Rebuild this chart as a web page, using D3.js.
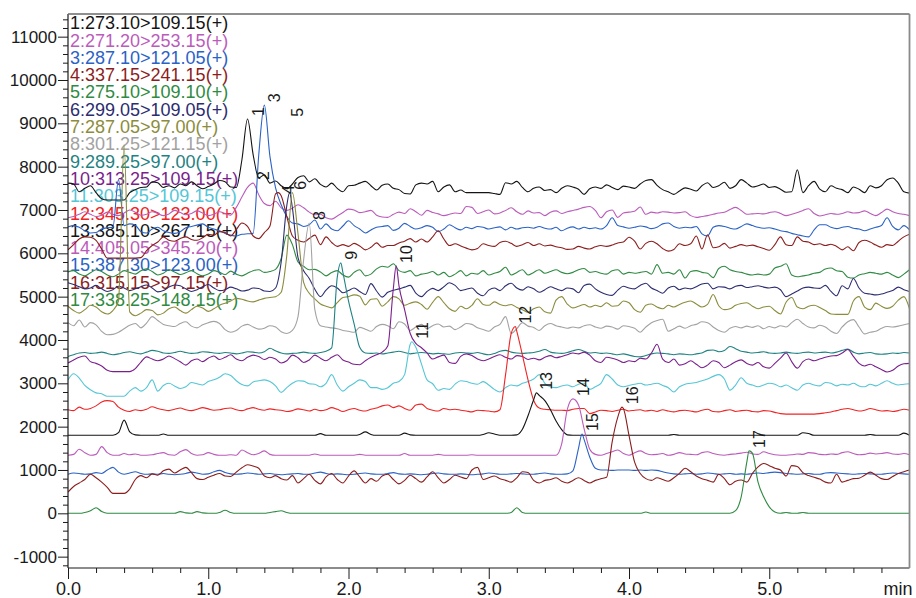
<!DOCTYPE html>
<html>
<head>
<meta charset="utf-8">
<script src="https://cdn.jsdelivr.net/npm/d3@7"></script>
<style>
  body { margin: 0; background: #fff; }
  svg { display: block; }
  text { font-family: "Liberation Sans", Arial, Helvetica, sans-serif; }
</style>
</head>
<body>
<svg id="chart" width="916" height="598"></svg>
<script>
// ---- MRM chromatogram data: one intensity sample every 0.04 min, 0.00 - 6.00 min ----
const sampleStep = 0.04;

const transitions = [
  "1:273.10>109.15(+)", "2:271.20>253.15(+)", "3:287.10>121.05(+)", "4:337.15>241.15(+)",
  "5:275.10>109.10(+)", "6:299.05>109.05(+)", "7:287.05>97.00(+)", "8:301.25>121.15(+)",
  "9:289.25>97.00(+)", "10:313.25>109.15(+)", "11:303.25>109.15(+)", "12:345.30>123.00(+)",
  "13:385.10>267.15(+)", "14:405.05>345.20(+)", "15:387.30>123.00(+)", "16:315.15>97.15(+)",
  "17:338.25>148.15(+)"
];

const trace01 = [
  7620,7600,7420,7500,7560,7400,7260,7230,7230,7230,
  7230,7400,7470,7520,7530,7650,7630,7520,7560,7510,
  7600,7560,7650,7560,7490,7540,7600,7680,7650,7530,
  7520,8160,9100,8280,7740,7810,7620,7670,7560,7490,
  7600,7750,7790,7650,7720,7590,7530,7620,7500,7420,
  7560,7570,7620,7660,7560,7460,7570,7600,7500,7470,
  7380,7370,7580,7620,7600,7660,7420,7530,7580,7420,
  7460,7400,7400,7400,7400,7400,7380,7360,7630,7600,
  7660,7520,7420,7500,7530,7450,7470,7400,7500,7560,
  7530,7480,7360,7490,7530,7500,7580,7520,7470,7550,
  7530,7500,7600,7680,7700,7570,7470,7420,7360,7440,
  7510,7480,7440,7560,7630,7520,7560,7640,7500,7560,
  7700,7620,7530,7560,7600,7520,7540,7480,7410,7420,
  7930,7400,7560,7660,7480,7420,7560,7500,7470,7400,
  7530,7480,7400,7560,7510,7560,7700,7740,7620,7420,
  7390
];
const trace02 = [
  6820,6850,6900,6960,6900,6850,6880,6950,6900,6870,
  6930,7000,6950,6880,6900,6960,6920,6870,6910,6990,
  6940,6890,6920,6980,6930,6870,6900,6960,6920,6880,
  7060,7300,7520,7620,7350,7150,7100,7200,7050,6990,
  7040,7120,7050,6950,6890,6900,6820,6790,6860,6940,
  7020,7000,6940,6960,6990,6880,6840,6830,6900,6950,
  6920,7030,6960,6880,6990,6940,6910,6870,6900,6930,
  6920,7080,7060,6920,6960,7000,6910,6930,6990,7050,
  6960,6900,6980,6930,6940,6870,6950,6980,6920,6960,
  6990,7020,7060,7080,6990,6820,6960,7000,6830,6930,
  6950,6970,7070,6900,6950,6930,6960,6950,6930,6940,
  6960,6870,6830,6850,6870,6900,6930,6950,7010,7060,
  6990,6900,6910,6920,6910,6940,6960,6920,6870,6900,
  6940,6990,7030,6920,6860,6890,6920,6900,6920,6960,
  6930,6940,6980,6920,6870,6940,7020,6960,6920,6900,
  6870
];
const trace03 = [
  6610,6640,6600,6520,6470,6480,6560,6590,6600,7700,
  6640,6680,6650,6500,6470,6560,6600,6520,6480,6460,
  6500,6590,6620,6650,6680,6600,6560,6520,6460,6420,
  6400,6440,6450,6460,8270,9420,8230,7510,7120,6850,
  6700,6680,6620,6660,6770,6560,6680,6560,6520,6630,
  6750,6640,6560,6470,6540,6600,6620,6640,6530,6580,
  6690,6620,6560,6590,6640,6600,6500,6560,6660,6590,
  6540,6600,6570,6620,6600,6560,6590,6610,6540,6600,
  6560,6590,6600,6580,6620,6580,6560,6600,6520,6580,
  6610,6560,6600,6570,6590,6560,6640,6820,6640,6610,
  6580,6600,6630,6610,6570,6600,6680,6700,6620,6580,
  6600,6590,6620,6450,6400,6600,6640,6620,6580,6560,
  6620,6680,6640,6600,6580,6590,6560,6520,6500,6460,
  6430,6400,6380,6540,6660,6660,6600,6570,6600,6620,
  6580,6560,6520,6560,6600,6640,6820,6620,6540,6640,
  6540
];
const trace04 = [
  6080,6200,6330,6380,6370,6300,6100,5890,5890,5890,
  5890,5890,5890,5900,6060,6180,6260,6380,6300,6280,
  6340,6380,6320,6300,6360,6440,6420,6500,6480,6400,
  6550,6700,6620,6400,6340,6480,6630,7370,7330,6850,
  6400,6300,6260,6340,6420,6200,6380,6250,6160,6200,
  6160,6230,6170,6080,6140,6240,6140,6180,6180,6240,
  6280,6340,6260,6330,6260,6380,6520,6330,6180,6220,
  6170,6120,6080,6110,6220,6180,6160,6250,6280,6230,
  6160,6200,6250,6180,6220,6170,6190,6150,6130,6090,
  6100,6160,6120,6100,6150,6180,6160,6190,6240,6260,
  6370,6280,6100,6230,6280,6220,6110,6050,6090,6220,
  6180,6220,6400,6100,6430,6130,6150,6230,6120,6160,
  6200,6170,6190,6150,6110,6070,6200,6380,6200,6180,
  6380,6280,6260,6200,6220,6180,6210,6160,6080,6150,
  6060,6250,6300,6260,6190,6140,6200,6180,6280,6380,
  6440
];
const trace05 = [
  5570,5600,5520,5480,5550,5620,5580,5500,5460,5520,
  5600,5560,5520,5600,5640,5580,5500,5540,5620,5570,
  5510,5550,5600,5530,5480,5520,5600,5560,5510,5590,
  5520,5480,5540,5600,5620,5560,5580,5630,5880,6420,
  6200,5800,5700,5620,5630,5570,5480,5560,5600,5500,
  5450,5560,5620,5480,5520,5640,5700,5680,5760,5600,
  5560,5600,5480,5520,5540,5580,5500,5560,5460,5520,
  5600,5480,5540,5520,5600,5500,5540,5580,5680,5500,
  5560,5620,5500,5560,5620,5540,5580,5620,5560,5530,
  5560,5620,5650,5560,5580,5540,5520,5600,5620,5520,
  5560,5540,5560,5580,5520,5740,5540,5560,5520,5620,
  5430,5580,5600,5560,5540,5440,5650,5700,5620,5580,
  5560,5520,5500,5520,5500,5520,5660,5700,5760,5500,
  5460,5480,5500,5540,5560,5640,5660,5600,5580,5450,
  5430,5500,5530,5560,5540,5520,5560,5500,5440,5520,
  5620
];
const trace06 = [
  5320,5280,5230,5180,5200,5260,5180,5120,5160,5240,
  5200,5140,5180,5230,5270,5200,5110,5140,5220,5270,
  5250,5180,5120,5160,5230,5280,5200,5140,5160,5220,
  5180,5130,5150,5200,5190,5130,5120,5200,5800,7100,
  7050,5900,5600,5420,5170,5000,5150,5250,5200,5090,
  5140,5200,5120,5050,5300,5130,4990,5100,5150,5180,
  5220,5260,5080,5000,5120,5190,5140,5230,5320,5260,
  5140,5170,5200,5080,5020,5150,5200,5140,5250,5310,
  5200,5150,5230,5180,5100,5160,5230,5180,5140,5200,
  5180,5090,5260,5290,5180,5100,5050,5030,5150,5240,
  5200,5180,5260,5310,5200,5140,5080,5200,5240,5160,
  5200,5180,5230,5290,5310,5180,5230,5220,5180,5240,
  5260,5210,5230,5250,5220,5200,5220,5160,5000,5060,
  5130,5200,5220,5200,5190,5260,5120,5020,5250,5180,
  5420,5200,5080,5060,5040,5060,5100,5140,5220,5160,
  5120
];
const trace07 = [
  4780,4680,4620,4700,4800,4760,4650,4600,4680,4900,
  8500,4650,4560,4620,4700,4680,4580,4620,4720,4760,
  4680,4620,4700,4780,4740,4660,4720,4800,4850,4900,
  4960,4940,4900,4880,4920,4960,4980,5000,5100,5950,
  7400,6450,5330,5080,4950,4830,4780,4740,4860,4980,
  5000,5040,5010,4810,4940,4950,4780,4880,5000,4950,
  4800,4850,4880,4820,4710,4870,5000,4860,4720,4660,
  4780,4720,4800,4950,4820,4800,4880,4820,4790,4820,
  4750,4700,4640,4720,4760,4650,4620,4920,5000,4830,
  4740,4780,4820,4760,4800,4770,4860,4780,4790,4900,
  4860,4700,4640,4800,4830,4760,4720,4800,4760,4820,
  4870,4900,4830,4760,4820,5050,4790,4700,4720,4800,
  4840,4860,4780,4720,4760,4780,4680,4600,4870,4980,
  4760,4720,4780,4800,4750,4680,4600,4590,4590,4590,
  4900,5000,4760,4700,4850,4780,4730,4780,4920,5000,
  4720
];
const trace08 = [
  4400,4330,4460,4300,4400,4350,4200,4120,4130,4180,
  4260,4340,4380,4280,4390,4540,4450,4360,4330,4310,
  4380,4420,4320,4280,4350,4400,4430,4380,4240,4180,
  4220,4320,4360,4300,4250,4270,4330,4300,4190,4150,
  4220,4540,5850,6700,4700,4330,4300,4280,4260,4220,
  4200,4180,4290,4250,4200,4310,4360,4330,4260,4420,
  4370,4220,4300,4360,4260,4330,4370,4300,4320,4240,
  4300,4380,4360,4280,4240,4200,4300,4360,4540,4150,
  4260,4400,4320,4290,4220,4330,4380,4330,4300,4270,
  4300,4280,4330,4350,4300,4270,4320,4300,4250,4330,
  4310,4270,4180,4300,4400,4450,4480,4200,4260,4320,
  4270,4330,4360,4420,4400,4300,4220,4180,4270,4310,
  4280,4320,4290,4330,4260,4310,4280,4330,4300,4400,
  4480,4380,4300,4280,4340,4300,4200,4150,4300,4420,
  4470,4300,4140,4180,4200,4270,4310,4300,4320,4350,
  4380
];
const trace09 = [
  3620,3660,3700,3710,3690,3700,3720,3690,3660,3680,
  3710,3730,3700,3680,3720,3760,3740,3700,3690,3710,
  3740,3710,3690,3700,3730,3720,3700,3690,3710,3700,
  3680,3700,3730,3720,3700,3730,3810,3750,3700,3680,
  3690,3700,3720,3700,3690,3710,3740,3820,5450,5560,
  4900,4370,3830,3700,3690,3700,3680,3700,3720,3740,
  3710,3680,3700,3710,3700,3680,3690,3680,3670,3700,
  3710,3700,3690,3710,3680,3660,3690,3740,3760,3720,
  3700,3690,3700,3710,3740,3780,3720,3700,3690,3710,
  3750,3780,3740,3700,3710,3690,3700,3680,3660,3680,
  3650,3620,3610,3640,3680,3700,3690,3680,3660,3680,
  3670,3660,3680,3700,3760,3770,3730,3760,3850,3800,
  3740,3720,3700,3710,3730,3700,3690,3700,3720,3700,
  3690,3710,3720,3700,3710,3720,3700,3720,3760,3790,
  3720,3680,3700,3710,3680,3670,3680,3700,3690,3710,
  3700
];
const trace10 = [
  3470,3540,3600,3630,3500,3460,3400,3300,3270,3270,
  3270,3270,3340,3490,3610,3560,3520,3560,3630,3570,
  3500,3420,3520,3560,3500,3580,3630,3550,3600,3660,
  3560,3520,3600,3650,3620,3550,3600,3560,3470,3520,
  3650,3590,3480,3540,3650,3580,3520,3600,3660,3540,
  3490,3440,3430,3520,3600,3660,3720,3860,5200,5250,
  4700,4150,3920,3820,3700,3560,3610,3650,3480,3460,
  3620,3680,3640,3560,3520,3560,3620,3660,3600,3560,
  3640,3620,3550,3580,3540,3600,3640,3590,3620,3660,
  3700,3680,3720,3650,3520,3480,3600,3580,3540,3480,
  3520,3500,3580,3560,3700,3900,3560,3480,3560,3420,
  3450,3520,3440,3360,3420,3520,3480,3360,3420,3500,
  3540,3460,3420,3480,3380,3350,3460,3580,3700,3500,
  3350,3500,3560,3520,3560,3600,3630,3640,3700,3780,
  3620,3460,3400,3440,3380,3320,3260,3300,3400,3450,
  3460
];
const trace11 = [
  3080,3220,3120,2950,2850,2780,2760,2700,2700,2700,
  2700,2820,2900,2820,2900,3080,2820,2950,3000,2940,
  2880,2920,3020,2990,2960,3040,3080,3140,3220,3180,
  3060,2970,2940,3030,3060,3080,3040,2940,2790,2900,
  3000,3060,3050,2990,2980,2920,3000,3200,2960,2820,
  2920,3000,3080,3040,2900,2900,2860,2900,3000,3040,
  3200,3900,3830,3450,3080,2990,2840,2880,2860,2980,
  3060,3040,3000,2980,3040,2960,2860,2800,2900,2960,
  2940,3000,3040,3100,3200,3000,2920,2900,2940,2960,
  2920,2980,3000,2860,2920,3000,3200,3100,2960,2920,
  2950,2980,3000,2960,2980,3000,2950,2900,2800,2920,
  2980,3000,3020,3060,3100,3160,3200,3100,2840,2960,
  3130,3000,2960,2920,2960,3000,2980,2920,2960,2900,
  2840,2960,3000,2960,2940,3020,3000,2940,2980,2960,
  3000,2940,2920,2980,2940,3000,3060,3000,2960,2980,
  2990
];
const trace12 = [
  2390,2370,2450,2400,2420,2480,2570,2600,2580,2450,
  2380,2350,2390,2370,2400,2460,2420,2390,2370,2400,
  2430,2390,2370,2400,2440,2410,2380,2390,2420,2430,
  2390,2370,2410,2440,2400,2380,2410,2390,2380,2350,
  2370,2410,2390,2360,2400,2370,2390,2440,2400,2350,
  2390,2420,2380,2360,2400,2430,2480,2500,2440,2480,
  2420,2380,2500,2520,2420,2380,2360,2420,2390,2400,
  2380,2360,2340,2380,2370,2360,2340,2390,3200,4150,
  4200,3650,3080,2610,2430,2400,2390,2380,2380,2370,
  2400,2420,2420,2300,2340,2380,2370,2350,2380,2400,
  2360,2380,2390,2360,2380,2350,2390,2360,2340,2370,
  2380,2360,2340,2380,2400,2350,2340,2370,2390,2350,
  2370,2380,2350,2340,2370,2360,2330,2300,2290,2290,
  2290,2290,2290,2290,2300,2320,2340,2370,2400,2420,
  2390,2360,2380,2420,2390,2360,2370,2350,2370,2400,
  2380
];
const trace13 = [
  1800,1800,1800,1800,1800,1800,1800,1800,1800,1860,
  2150,1880,1810,1800,1800,1800,1800,1830,1800,1800,
  1800,1800,1800,1800,1800,1800,1800,1800,1800,1800,
  1800,1800,1800,1800,1800,1800,1800,1800,1800,1800,
  1800,1800,1800,1800,1800,1840,1800,1800,1800,1800,
  1800,1800,1820,1880,1820,1800,1800,1800,1800,1800,
  1850,1810,1800,1800,1800,1800,1800,1800,1800,1800,
  1800,1800,1800,1800,1820,1860,1830,1800,1800,1800,
  1810,1940,2250,2620,2720,2600,2390,2130,1930,1810,
  1800,1800,1800,1800,1800,1800,1800,1800,1800,1800,
  1800,1800,1800,1800,1800,1800,1800,1800,1820,1800,
  1800,1800,1800,1800,1800,1800,1800,1800,1800,1800,
  1800,1800,1800,1800,1800,1800,1800,1800,1800,1800,
  1800,1860,1840,1800,1800,1800,1800,1800,1800,1800,
  1800,1800,1800,1820,1800,1800,1800,1800,1800,1850,
  1800
];
const trace14 = [
  1340,1360,1480,1400,1340,1360,1540,1400,1340,1340,
  1380,1350,1370,1340,1340,1350,1380,1400,1350,1340,
  1420,1470,1380,1340,1350,1400,1360,1340,1340,1350,
  1340,1460,1400,1350,1380,1440,1360,1340,1340,1340,
  1340,1340,1340,1340,1370,1340,1340,1340,1340,1340,
  1340,1340,1360,1340,1340,1340,1340,1340,1340,1340,
  1380,1340,1340,1340,1340,1340,1360,1340,1340,1340,
  1340,1340,1350,1340,1340,1340,1340,1340,1340,1340,
  1340,1340,1340,1340,1340,1340,1340,1340,1600,2400,
  2640,2500,1950,1480,1360,1340,1380,1420,1460,1380,
  1340,1400,1440,1380,1350,1360,1380,1340,1360,1400,
  1370,1360,1350,1400,1420,1380,1350,1340,1360,1370,
  1390,1410,1370,1360,1420,1380,1350,1340,1340,1350,
  1370,1360,1400,1390,1360,1350,1370,1360,1400,1420,
  1380,1350,1360,1390,1370,1380,1400,1370,1360,1380,
  1350
];
const trace15 = [
  900,930,920,900,910,940,920,1000,1060,950,
  900,930,960,920,900,910,900,920,900,890,
  900,920,950,930,900,910,960,990,940,910,
  900,910,930,920,900,910,920,900,890,900,
  910,920,900,900,930,950,920,900,910,900,
  890,900,920,930,910,900,900,920,940,910,
  900,910,900,890,900,920,930,910,900,900,
  910,900,890,900,910,930,920,900,900,910,
  920,910,900,900,920,930,910,900,900,910,
  980,1500,1700,1300,1040,1000,1000,990,1000,1000,
  1000,990,1000,990,1000,990,960,930,910,900,
  910,920,900,910,930,920,900,910,920,900,
  910,900,920,930,920,940,950,940,920,910,
  900,910,920,900,900,930,940,930,920,910,
  900,910,920,910,900,900,920,930,920,910,
  900
];
const trace16 = [
  490,620,700,780,900,820,720,600,460,460,
  460,560,780,870,820,910,880,980,1020,930,
  1000,1060,940,800,780,830,880,920,860,850,
  950,1050,1120,1090,1040,860,820,870,800,770,
  870,700,800,900,760,680,840,920,780,700,
  860,980,840,700,800,740,860,900,780,680,
  760,880,800,720,840,960,820,700,780,880,
  840,800,1000,1060,780,820,860,800,760,720,
  820,960,940,760,700,760,780,820,740,700,
  760,820,760,700,760,800,830,1650,2220,2420,
  1800,1180,920,800,760,820,780,740,820,920,
  1040,960,860,800,760,720,900,800,660,740,
  770,720,920,1070,1150,1100,1040,1000,860,1100,
  1080,940,870,830,790,720,700,900,720,760,
  800,810,880,950,880,800,780,850,920,960,
  1000
];
const trace17 = [
  0,0,0,20,60,130,40,0,0,0,
  0,0,0,0,0,0,0,0,0,0,
  40,10,0,40,10,0,0,20,70,20,
  0,0,0,0,0,0,20,40,60,20,
  0,0,0,0,0,0,0,0,0,0,
  0,0,0,0,0,0,0,0,0,0,
  0,0,0,0,0,0,0,0,0,0,
  0,0,0,0,0,0,0,0,0,20,
  130,20,0,0,0,0,0,0,0,0,
  0,0,0,0,0,0,0,0,0,0,
  0,0,0,30,0,0,0,0,0,0,
  0,0,0,0,0,0,0,0,0,60,
  380,1180,1390,720,380,150,30,0,20,0,
  0,20,0,0,0,0,0,0,0,0,
  0,0,0,0,0,0,0,0,0,0,
  0
];

// Peak apex readings that fall between stored samples (trace number, time, intensity)
const apexTrace  = [4, 6, 9, 10, 11, 12, 13, 15, 16, 17];
const apexTimes  = [1.50, 1.58, 1.945, 2.34, 2.45, 3.19, 3.34, 3.665, 3.95, 4.856];
const apexValues = [7400, 7400, 5780, 5710, 3960, 4310, 2780, 1830, 2450, 1440];

// Peak number annotations (time, intensity where each number sits)
const peakNames  = ["1", "2", "3", "4", "5", "6", "8", "9", "10", "11", "12", "13", "14", "15", "16", "17"];
const peakTimes  = [1.28, 1.32, 1.40, 1.50, 1.56, 1.58, 1.72, 1.945, 2.34, 2.45, 3.19, 3.34, 3.60, 3.665, 3.95, 4.856];
const peakLevels = [9100, 7620, 9420, 7300, 9080, 7400, 6700, 5780, 5710, 3960, 4310, 2780, 2640, 1830, 2450, 1440];

// Axis ticks
const yMajorTicks = d3.range(-1000, 11001, 1000);
const yMinorTicks = d3.range(-1200, 11401, 200).filter(v => v % 1000 !== 0);
const xMajorTicks = [0, 1, 2, 3, 4, 5];
const xMinorTicks = d3.range(1, 30).map(i => i / 5).filter(v => Math.abs(v - Math.round(v)) > 1e-9);

// Trace colours (1..17)
const palette = [
  "#141414", "#bb5cbb", "#2a62c6", "#8c1d1d", "#2f8a42", "#2c2c70", "#8c8c3c", "#a2a2a2",
  "#1f8282", "#7a1f8c", "#55c6d6", "#f02424", "#141414", "#bb5cbb", "#2a62c6", "#8c1d1d",
  "#2f8a42"
];

const traces = [trace01, trace02, trace03, trace04, trace05, trace06, trace07, trace08, trace09,
                trace10, trace11, trace12, trace13, trace14, trace15, trace16, trace17];

// ---- layout ----
const plot = { left: 68, right: 909.5, top: 14, bottom: 568 };
const x = d3.scaleLinear().domain([0, 6]).range([plot.left, plot.right]);
const y = d3.scaleLinear().domain([-1262, 11523]).range([plot.bottom, plot.top]);

const svg = d3.select("#chart");

// merge stored samples with apex readings, per trace
const series = traces.map((vals, k) => {
  const pts = vals.map((v, i) => ({ t: +(i * sampleStep).toFixed(3), v }));
  apexTrace.forEach((tr, j) => {
    if (tr === k + 1) pts.push({ t: apexTimes[j], v: apexValues[j] });
  });
  pts.sort((a, b) => a.t - b.t);
  return pts;
});

// legend text (drawn first; traces run over it)
const legend = svg.append("g");
transitions.forEach((txt, i) => {
  legend.append("text")
    .attr("x", plot.left + 2)
    .attr("y", 29.2 + i * 17.3)
    .attr("font-size", 18)
    .attr("fill", palette[i])
    .text(txt);
});

// clip region for traces
svg.append("defs").append("clipPath").attr("id", "plotClip")
  .append("rect")
  .attr("x", plot.left).attr("y", plot.top)
  .attr("width", plot.right - plot.left).attr("height", plot.bottom - plot.top);

const line = d3.line()
  .x(d => x(d.t))
  .y(d => y(d.v))
  .curve(d3.curveMonotoneX);

const traceLayer = svg.append("g").attr("clip-path", "url(#plotClip)");
series.forEach((pts, k) => {
  traceLayer.append("path")
    .attr("d", line(pts))
    .attr("fill", "none")
    .attr("stroke", palette[k])
    .attr("stroke-width", 1.1)
    .attr("stroke-linejoin", "round");
});

// peak numbers, rotated to read upward
const peakLayer = svg.append("g");
peakNames.forEach((name, i) => {
  const px = x(peakTimes[i]) + 16;
  const py = y(peakLevels[i]) - 3;
  peakLayer.append("text")
    .attr("transform", `translate(${px},${py}) rotate(-90)`)
    .attr("font-size", 16)
    .attr("fill", "#1a1a1a")
    .text(name);
});

// ---- axes ----
const yAxisMajor = d3.axisLeft(y).tickValues(yMajorTicks).tickSize(10).tickPadding(1)
  .tickFormat(d => String(d));
const yAxisMinor = d3.axisLeft(y).tickValues(yMinorTicks).tickSize(5).tickFormat("");
const xAxisMajor = d3.axisBottom(x).tickValues(xMajorTicks).tickSize(11).tickPadding(3)
  .tickFormat(d3.format(".1f"));
const xAxisMinor = d3.axisBottom(x).tickValues(xMinorTicks).tickSize(5).tickFormat("");

function styleAxis(g, fs) {
  g.select(".domain").remove();
  g.selectAll(".tick line").attr("stroke", "#1a1a1a").attr("stroke-width", 1);
  g.selectAll(".tick text").attr("font-size", fs).attr("fill", "#1a1a1a")
    .attr("font-family", "'Liberation Sans', Arial, sans-serif");
}

svg.append("g").attr("transform", `translate(${plot.left},0)`).call(yAxisMinor).call(g => styleAxis(g, 17));
svg.append("g").attr("transform", `translate(${plot.left},0)`).call(yAxisMajor).call(g => styleAxis(g, 17));
svg.append("g").attr("transform", `translate(0,${plot.bottom})`).call(xAxisMinor).call(g => styleAxis(g, 18));
svg.append("g").attr("transform", `translate(0,${plot.bottom})`).call(xAxisMajor).call(g => styleAxis(g, 18));

// frame: dark axis lines on left/bottom, grey border on top/right
svg.append("line").attr("x1", plot.left).attr("x2", plot.left)
  .attr("y1", plot.top).attr("y2", plot.bottom).attr("stroke", "#1a1a1a").attr("stroke-width", 1.2);
svg.append("line").attr("x1", plot.left).attr("x2", plot.right)
  .attr("y1", plot.bottom).attr("y2", plot.bottom).attr("stroke", "#1a1a1a").attr("stroke-width", 1.2);
svg.append("line").attr("x1", plot.left).attr("x2", plot.right)
  .attr("y1", plot.top).attr("y2", plot.top).attr("stroke", "#6a6a6a").attr("stroke-width", 1.5);
svg.append("line").attr("x1", plot.right).attr("x2", plot.right)
  .attr("y1", plot.top).attr("y2", plot.bottom).attr("stroke", "#8a8a8a").attr("stroke-width", 1.8);

// time unit label
svg.append("text")
  .attr("x", 898).attr("y", 595)
  .attr("text-anchor", "middle")
  .attr("font-size", 18)
  .attr("fill", "#1a1a1a")
  .text("min");
</script>
</body>
</html>
